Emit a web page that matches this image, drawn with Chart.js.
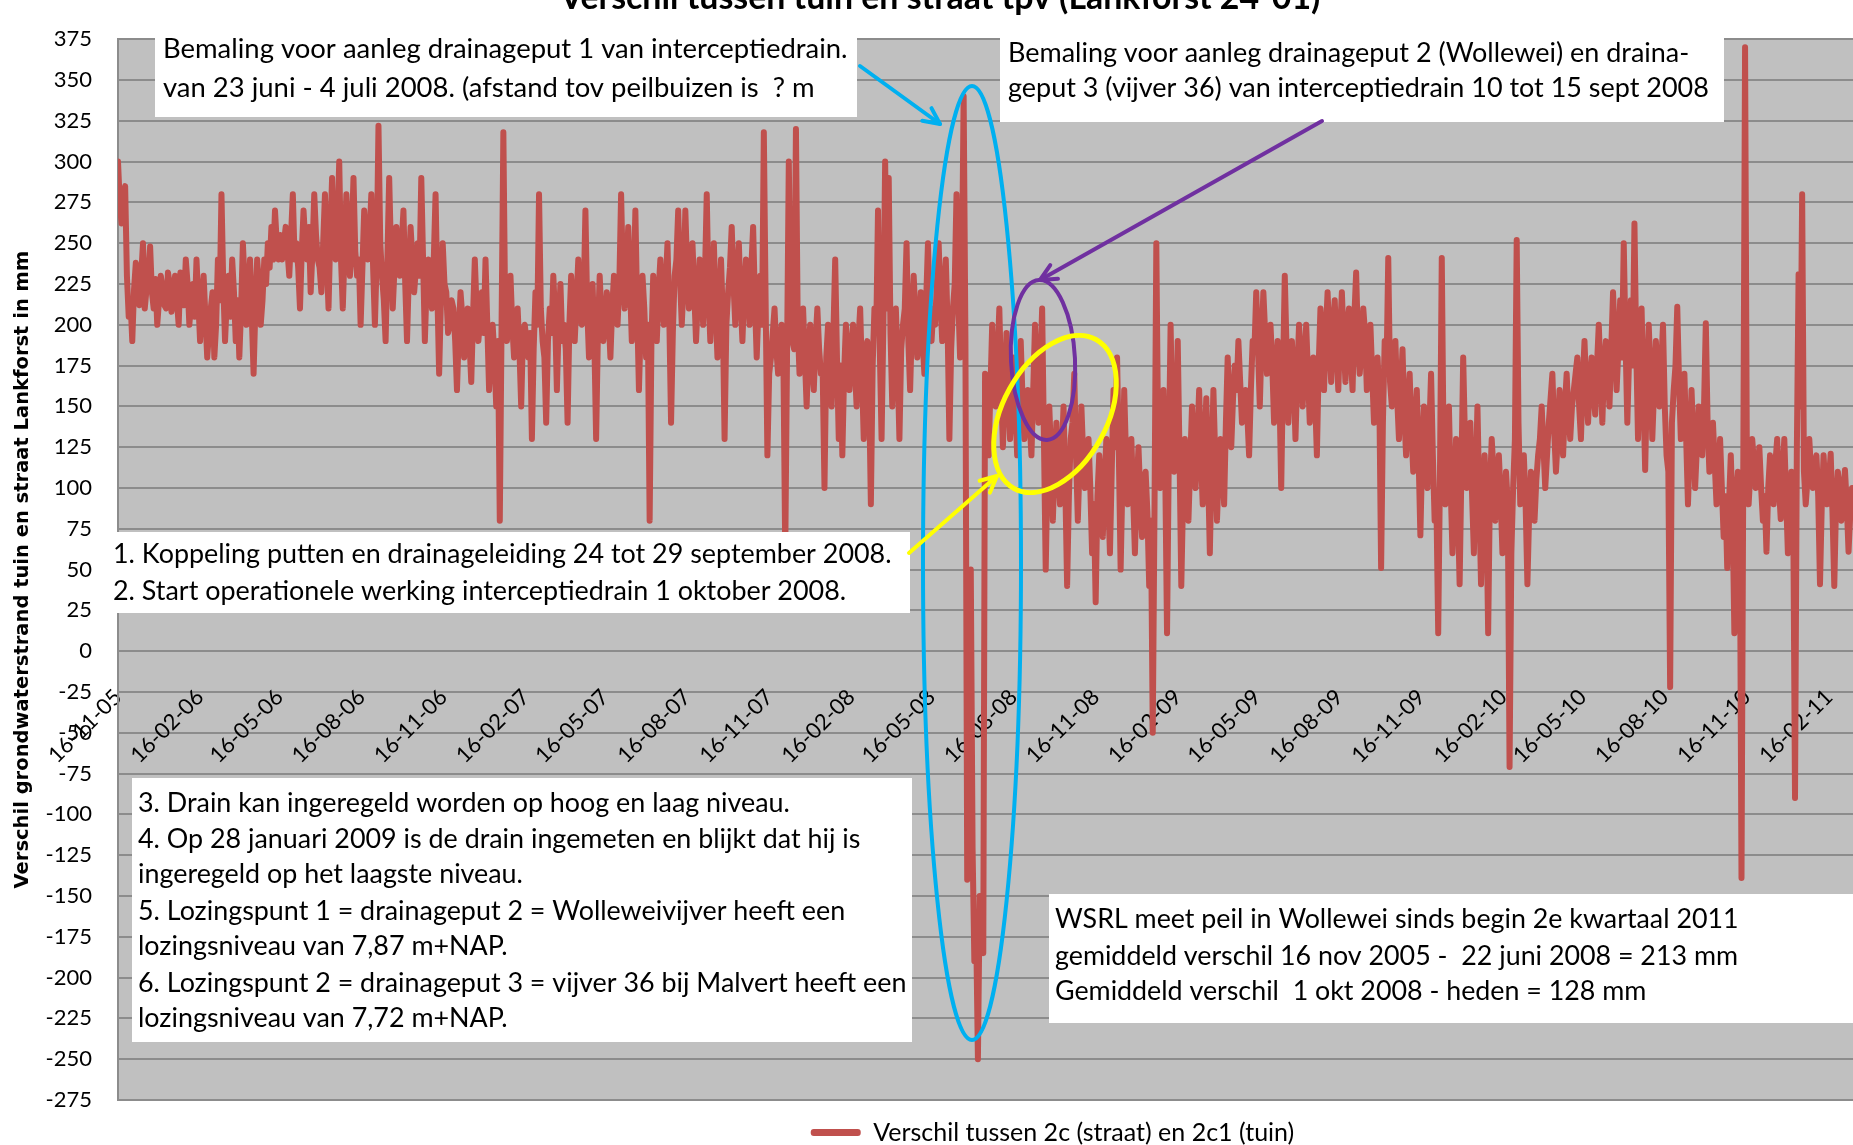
<!DOCTYPE html>
<html>
<head>
<meta charset="utf-8">
<title>Verschil tussen tuin en straat tpv (Lankforst 24-01)</title>
<script src="https://cdn.jsdelivr.net/npm/chart.js@4.4.1/dist/chart.umd.min.js"></script>
<style>
  html, body { margin: 0; padding: 0; background: #fff; }
  canvas { display: block; }
</style>
</head>
<body>
<canvas id="verschilChart" width="1853" height="1145"></canvas>
<script>
// gegevens: verschil straat - tuin in mm vanaf 16-11-2005
// waarden: dag 0, 4, 8, ...   tussenWaarden: dag 2, 6, 10, ...
var startDatum = Date.UTC(2005, 10, 16);
var stapDagen = 4;

var tickLabels = ['16-11-05', '16-02-06', '16-05-06', '16-08-06', '16-11-06', '16-02-07', '16-05-07',
    '16-08-07', '16-11-07', '16-02-08', '16-05-08', '16-08-08', '16-11-08', '16-02-09', '16-05-09',
    '16-08-09', '16-11-09', '16-02-10', '16-05-10', '16-08-10', '16-11-10', '16-02-11'];

var waarden = [
    // nov 05 - feb 06
    300, 262, 285, 205, 190, 238, 212, 250, 222, 248, 210, 200, 230, 212, 232, 208, 230, 200, 228, 240, 200, 225, 240,
    // feb 06 - mei 06
    190, 230, 180, 210, 180, 240, 280, 190, 230, 240, 190, 180, 250, 200, 240, 170, 240, 200, 240, 250, 260, 270, 240,
    // mei 06 - aug 06
    240, 260, 230, 280, 250, 210, 270, 240, 220, 280, 240, 220, 280, 210, 290, 240, 300, 210, 280, 230, 290, 230, 200,
    // aug 06 - nov 06
    270, 240, 280, 200, 322, 230, 190, 290, 210, 260, 230, 270, 190, 260, 220, 250, 290, 190, 240, 210, 280, 170, 250,
    // nov 06 - feb 07
    220, 200, 210, 160, 220, 180, 210, 165, 240, 190, 220, 240, 160, 200, 150, 80, 318, 190, 230, 180, 210, 150, 200,
    // feb 07 - mei 07
    180, 130, 220, 280, 190, 140, 210, 230, 160, 225, 200, 140, 230, 190, 240, 200, 270, 180, 225, 130, 230, 190,
    // mei 07 - aug 07
    220, 180, 230, 200, 280, 210, 260, 190, 270, 160, 230, 180, 80, 230, 190, 240, 200, 250, 140, 230, 270, 200, 270,
    // aug 07 - nov 07
    210, 250, 190, 240, 200, 280, 190, 250, 180, 240, 130, 220, 260, 200, 250, 190, 240, 200, 260, 180, 230, 318, 120,
    // nov 07 - feb 08
    180, 210, 170, 200, 60, 300, 190, 320, 170, 210, 150, 200, 160, 210, 170, 100, 200, 150, 240, 130, 120, 200, 160,
    // feb 08 - mei 08
    200, 150, 210, 130, 190, 90, 210, 270, 130, 300, 290, 150, 210, 130, 200, 250, 160, 230, 180, 220, 170, 250, 190,
    // mei 08 - aug 08 (bemaling)
    200, 250, 190, 240, 130, 210, 280, 180, 340, -140, 50, -190, -250, -180, 170, 120, 200, 150, 210, 125, 195, 130,
    // aug 08 - nov 08
    180, 120, 190, 130, 160, 120, 200, 140, 210, 50, 150, 80, 140, 90, 150, 40, 130, 170, 80, 150, 100, 130, 60,
    // nov 08 - feb 09
    30, 120, 70, 130, 60, 160, 180, 50, 160, 90, 130, 60, 125, 70, 110, 40, -50, 250, 100, 160, 11, 200, 110,
    // feb 09 - mei 09
    190, 40, 130, 80, 150, 100, 160, 90, 155, 60, 160, 80, 130, 90, 180, 125, 175, 190, 140, 160, 120, 190,
    // mei 09 - aug 09
    220, 150, 220, 170, 200, 140, 190, 100, 230, 140, 190, 130, 200, 150, 200, 140, 180, 120, 210, 160, 220, 165, 215,
    // aug 09 - nov 09
    160, 220, 165, 210, 160, 232, 170, 210, 160, 200, 140, 180, 51, 190, 241, 150, 190, 130, 185, 120, 170, 110, 160,
    // nov 09 - feb 10
    71, 150, 100, 170, 80, 11, 241, 90, 150, 60, 130, 41, 180, 100, 140, 60, 150, 41, 120, 11, 130, 80, 120,
    // feb 10 - mei 10
    60, 110, -71, 100, 252, 90, 120, 41, 110, 80, 120, 150, 100, 140, 170, 110, 160, 120, 170, 130, 160, 180, 130,
    // mei 10 - aug 10
    190, 140, 180, 145, 200, 140, 190, 150, 220, 160, 215, 250, 140, 215, 262, 130, 210, 111, 200, 130, 190, 150, 200,
    // aug 10 - nov 10
    120, -22, 160, 211, 130, 170, 90, 160, 100, 150, 120, 201, 110, 140, 90, 130, 70, 51, 120, 11, 110, -139, 370,
    // nov 10 - feb 11
    90, 130, 100, 125, 80, 61, 120, 90, 130, 81, 130, 60, 110, -90, 231, 280, 90, 130, 100, 120, 41, 120, 90,
    // feb 11 - mrt 11
    121, 40, 110, 80, 111, 61, 100
];

var tussenWaarden = [
    // nov 05 - feb 06
    275, 280, 230, 215, 222, 225, 230, 210, 230, 220, 228, 215, 222, 210, 225, 220, 215, 232, 212, 225, 215, 205, 215,
    // feb 06 - mei 06
    215, 205, 195, 220, 200, 215, 225, 215, 205, 220, 215, 210, 225, 215, 205, 210, 225, 215, 225, 235, 240, 250, 255,
    // mei 06 - aug 06
    250, 245, 255, 240, 235, 245, 250, 260, 245, 255, 235, 250, 240, 255, 245, 260, 240, 245, 250, 255, 245, 240, 235,
    // aug 06 - nov 06
    250, 255, 235, 240, 250, 215, 240, 245, 235, 245, 250, 225, 230, 240, 235, 230, 240, 225, 230, 240, 220, 215, 225,
    // nov 06 - feb 07
    195, 215, 190, 195, 205, 195, 190, 205, 210, 205, 195, 200, 185, 180, 190, 200, 210, 205, 200, 195, 185, 195, 190,
    // feb 07 - mei 07
    195, 185, 200, 210, 180, 190, 195, 205, 200, 190, 185, 200, 210, 215, 205, 215, 210, 200, 190, 195, 205, 200,
    // mei 07 - aug 07
    205, 210, 215, 225, 230, 235, 225, 220, 210, 200, 210, 200, 190, 215, 220, 210, 225, 205, 195, 240, 230, 225, 235,
    // aug 07 - nov 07
    230, 220, 215, 225, 230, 220, 225, 210, 215, 205, 200, 235, 225, 230, 215, 220, 225, 235, 215, 210, 200, 215, 170,
    // nov 07 - feb 08
    195, 185, 190, 175, 180, 200, 185, 200, 190, 180, 185, 175, 190, 185, 170, 180, 175, 195, 180, 175, 170, 185, 180,
    // feb 08 - mei 08
    175, 190, 170, 185, 160, 175, 195, 185, 200, 210, 195, 180, 175, 185, 210, 190, 200, 205, 195, 190, 215, 205, 210,
    // mei 08 - aug 08 (bemaling)
    225, 215, 220, 200, 185, 225, 215, 230, 190, -60, -120, -170, -150, -185, 150, 160, 170, 180, 165, 155, 165, 150,
    // aug 08 - nov 08
    150, 160, 155, 145, 140, 160, 165, 175, 130, 110, 120, 115, 110, 120, 100, 95, 140, 120, 115, 120, 110, 100, 90,
    // nov 08 - feb 09
    95, 100, 105, 95, 110, 125, 120, 105, 120, 110, 95, 100, 95, 105, 85, 80, 90, 130, 125, 110, 120, 140, 135,
    // feb 09 - mei 09
    120, 95, 105, 115, 120, 130, 120, 125, 110, 115, 120, 110, 115, 140, 150, 155, 160, 165, 150, 145, 160, 185,
    // mei 09 - aug 09
    185, 190, 195, 185, 175, 170, 160, 170, 185, 175, 165, 170, 180, 175, 170, 165, 155, 175, 190, 195, 190, 200, 185,
    // aug 09 - nov 09
    195, 190, 200, 180, 205, 190, 185, 195, 175, 170, 160, 155, 140, 170, 165, 170, 155, 160, 145, 150, 135, 140, 120,
    // nov 09 - feb 10
    120, 125, 135, 120, 90, 110, 125, 115, 100, 95, 90, 110, 130, 120, 95, 105, 95, 85, 90, 100, 110, 105, 95,
    // feb 10 - mei 10
    95, 90, 60, 130, 140, 105, 90, 85, 100, 105, 130, 125, 120, 155, 135, 130, 140, 150, 145, 150, 170, 150, 165,
    // mei 10 - aug 10
    160, 165, 160, 175, 170, 175, 170, 185, 190, 185, 180, 190, 180, 175, 185, 170, 160, 165, 170, 160, 170, 175, 150,
    // aug 10 - nov 10
    110, 140, 175, 165, 150, 130, 125, 130, 125, 135, 150, 140, 125, 115, 110, 100, 95, 90, 85, 95, 100, 110, 120,
    // nov 10 - feb 11
    110, 115, 110, 100, 95, 100, 105, 115, 100, 110, 95, 90, 85, 120, 150, 110, 105, 110, 115, 95, 90, 100, 105,
    // feb 11 - mrt 11
    85, 90, 100, 95, 90, 85
];

var yMin = -275;
var yMax = 375;
var yStap = 25;

var titelTekst = 'Verschil tussen tuin en straat tpv (Lankforst 24-01)';
var yTitel = 'Verschil grondwaterstrand tuin en straat Lankforst in mm';
var reeksNaam = 'Verschil tussen 2c (straat) en 2c1 (tuin)';

// opmerkingen in de grafiek
var notities = [
    { x: 155, y: 24, b: 702, h: 93, tekstX: 163, breedte: 685, basis: [58, 97], regels: [
        'Bemaling voor aanleg drainageput 1 van interceptiedrain.',
        'van 23 juni - 4 juli 2008. (afstand tov peilbuizen is  ? m'] },
    { x: 1000, y: 28, b: 724, h: 94, tekstX: 1008, breedte: 701, basis: [62, 97], regels: [
        'Bemaling voor aanleg drainageput 2 (Wollewei) en draina-',
        'geput 3 (vijver 36) van interceptiedrain 10 tot 15 sept 2008'] },
    { x: 106, y: 532, b: 804, h: 81, tekstX: 113, breedte: 779, basis: [563, 600], regels: [
        '1. Koppeling putten en drainageleiding 24 tot 29 september 2008.',
        '2. Start operationele werking interceptiedrain 1 oktober 2008.'] },
    { x: 132, y: 778, b: 780, h: 264, tekstX: 138, breedte: 769, basis: [812, 848, 883, 920, 955, 992, 1027], regels: [
        '3. Drain kan ingeregeld worden op hoog en laag niveau.',
        '4. Op 28 januari 2009 is de drain ingemeten en blijkt dat hij is',
        'ingeregeld op het laagste niveau.',
        '5. Lozingspunt 1 = drainageput 2 = Wolleweivijver heeft een',
        'lozingsniveau van 7,87 m+NAP.',
        '6. Lozingspunt 2 = drainageput 3 = vijver 36 bij Malvert heeft een',
        'lozingsniveau van 7,72 m+NAP.'] },
    { x: 1049, y: 894, b: 810, h: 129, tekstX: 1055, breedte: 684, basis: [928, 965, 1000], regels: [
        'WSRL meet peil in Wollewei sinds begin 2e kwartaal 2011',
        'gemiddeld verschil 16 nov 2005 -  22 juni 2008 = 213 mm',
        'Gemiddeld verschil  1 okt 2008 - heden = 128 mm'] }
];

// omrekenen naar dagen sinds de start
function dagVan(label) {
    var d = label.split('-');
    return Math.round((Date.UTC(2000 + parseInt(d[2], 10), parseInt(d[1], 10) - 1, parseInt(d[0], 10)) - startDatum) / 86400000);
}
var tickDagen = tickLabels.map(dagVan);
var punten = [];
waarden.forEach(function (v, i) {
    punten.push({ x: i * stapDagen, y: v });
    if (i < tussenWaarden.length) punten.push({ x: i * stapDagen + stapDagen / 2, y: tussenWaarden[i] });
});
var laatsteDag = (waarden.length - 1) * stapDagen + 1;
var yTicks = [];
for (var t = yMin; t <= yMax; t += yStap) yTicks.push(t);

function pasGrootte(c, regels, breedte, gewicht) {
    c.font = gewicht + ' 100px Lato';
    var w = 0;
    regels.forEach(function (r) { w = Math.max(w, c.measureText(r).width); });
    return 100 * breedte / w;
}

function ovaal(c, cx, cy, rx, ry, rot, kleur, dikte) {
    c.strokeStyle = kleur;
    c.lineWidth = dikte;
    c.beginPath();
    c.ellipse(cx, cy, rx, ry, rot, 0, Math.PI * 2);
    c.stroke();
}

function pijl(c, x1, y1, x2, y2, kleur, dikte) {
    var hoek = Math.atan2(y2 - y1, x2 - x1), len = 18;
    c.strokeStyle = kleur;
    c.lineWidth = dikte;
    c.lineCap = 'round';
    c.lineJoin = 'round';
    c.beginPath();
    c.moveTo(x1, y1);
    c.lineTo(x2, y2);
    c.stroke();
    c.beginPath();
    c.moveTo(x2 - len * Math.cos(hoek - 0.45), y2 - len * Math.sin(hoek - 0.45));
    c.lineTo(x2, y2);
    c.lineTo(x2 - len * Math.cos(hoek + 0.45), y2 - len * Math.sin(hoek + 0.45));
    c.stroke();
}

var achtergrond = {
    id: 'achtergrond',
    beforeDraw: function (chart) {
        var c = chart.ctx, a = chart.chartArea;
        c.save();
        c.fillStyle = '#ffffff';
        c.fillRect(0, 0, chart.width, chart.height);
        c.fillStyle = '#c0c0c0';
        c.fillRect(a.left, a.top, a.right - a.left, a.bottom - a.top);
        c.restore();
    }
};

// legenda staat in het origineel iets rechts van het midden
var legendaSchuif = {
    id: 'legendaSchuif',
    afterLayout: function (chart) {
        chart.legend.left += 126;
        chart.legend.right += 126;
    }
};

var opmerkingen = {
    id: 'opmerkingen',
    afterDraw: function (chart) {
        var c = chart.ctx;
        c.save();
        // titel, valt deels buiten het beeld zoals in het origineel
        c.font = 'bold ' + pasGrootte(c, [titelTekst], 761, 'bold') + 'px Lato';
        c.fillStyle = '#000';
        c.textAlign = 'center';
        c.textBaseline = 'alphabetic';
        c.fillText(titelTekst, 940, 9);

        notities.forEach(function (n) {
            c.fillStyle = '#ffffff';
            c.fillRect(n.x, n.y, n.b, n.h);
            c.fillStyle = '#000';
            c.textAlign = 'left';
            c.font = pasGrootte(c, n.regels, n.breedte, 'normal') + 'px Lato';
            n.regels.forEach(function (r, i) { c.fillText(r, n.tekstX, n.basis[i]); });
        });

        ovaal(c, 972, 563, 49, 477, 0, '#00b0f0', 4);
        pijl(c, 860, 66, 940, 124, '#00b0f0', 4);
        ovaal(c, 1043, 360, 32, 80, -0.05, '#7030a0', 4);
        pijl(c, 1322, 121, 1040, 280, '#7030a0', 4);
        ovaal(c, 1055, 414, 85, 52, -1.068, '#ffff00', 5);
        pijl(c, 909, 553, 997, 476, '#ffff00', 4);
        c.restore();
    }
};

var ctx = document.getElementById('verschilChart').getContext('2d');
var verschilChart = new Chart(ctx, {
    type: 'line',
    data: {
        datasets: [{
            label: reeksNaam,
            data: punten,
            borderColor: '#c0504d',
            backgroundColor: '#c0504d',
            borderWidth: 6,
            borderJoinStyle: 'round',
            borderCapStyle: 'round',
            pointRadius: 0,
            tension: 0,
            fill: false
        }]
    },
    options: {
        responsive: false,
        animation: false,
        devicePixelRatio: 1,
        events: [],
        layout: { padding: { top: 21, right: 0, bottom: -10, left: 0 } },
        scales: {
            x: {
                type: 'linear',
                position: { y: 0 },
                min: 0,
                max: laatsteDag,
                grid: { display: false },
                border: { display: false },
                afterBuildTicks: function (scale) {
                    scale.ticks = tickDagen.map(function (d) { return { value: d }; });
                },
                afterFit: function (scale) {
                    scale.paddingLeft = 0;
                    scale.paddingRight = 0;
                },
                ticks: {
                    autoSkip: false,
                    maxRotation: 45,
                    minRotation: 45,
                    padding: 25,
                    color: '#000',
                    font: { family: 'Lato', size: 22 },
                    callback: function (value, index) { return tickLabels[index]; }
                }
            },
            y: {
                position: 'left',
                min: yMin,
                max: yMax,
                afterBuildTicks: function (scale) {
                    scale.ticks = yTicks.map(function (v) { return { value: v }; });
                },
                afterFit: function (scale) {
                    scale.width = 118;
                },
                grid: { color: '#8c8c8c', lineWidth: 2, drawTicks: false },
                border: { display: true, color: '#8c8c8c', width: 2 },
                ticks: {
                    padding: 26,
                    color: '#000',
                    font: { family: 'Lato', size: 22 }
                },
                title: {
                    display: true,
                    text: yTitel,
                    color: '#000',
                    font: { family: 'DejaVu Sans', size: 19.5, weight: 'bold' },
                    padding: { top: 11, bottom: 0 }
                }
            }
        },
        plugins: {
            title: { display: false },
            tooltip: { enabled: false },
            legend: {
                position: 'bottom',
                labels: {
                    color: '#000',
                    font: { family: 'Lato', size: 25 },
                    boxWidth: 50,
                    boxHeight: 7,
                    padding: 20,
                    useBorderRadius: true,
                    borderRadius: 3,
                    generateLabels: function (chart) {
                        var items = Chart.defaults.plugins.legend.labels.generateLabels(chart);
                        items.forEach(function (it) { it.lineWidth = 0; it.fillStyle = '#c0504d'; });
                        return items;
                    }
                }
            }
        }
    },
    plugins: [achtergrond, legendaSchuif, opmerkingen]
});
</script>
</body>
</html>
